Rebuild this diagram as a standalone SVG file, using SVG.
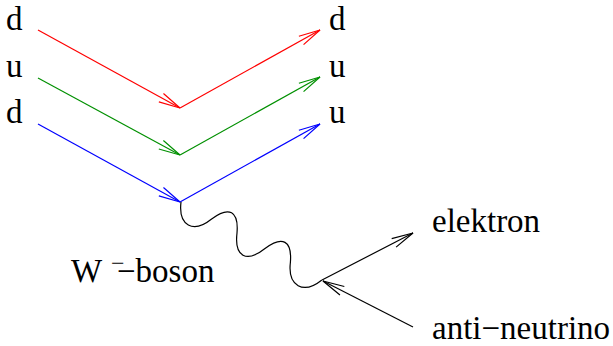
<svg xmlns="http://www.w3.org/2000/svg" width="613" height="346" viewBox="0 0 613 346">
<style>
  text { font-family: "Liberation Serif", "Times New Roman", serif; font-size: 33px; fill: #000; }
  .ln { fill: none; stroke-width: 1.2; }
  .r { stroke: #ff0000; }
  .g { stroke: #009000; }
  .b { stroke: #0000ff; }
  .k { stroke: #000000; }
</style>
<defs>
  <marker id="ar" markerUnits="userSpaceOnUse" orient="auto" markerWidth="30" markerHeight="20" refX="0" refY="0" viewBox="-25 -10 30 20" overflow="visible">
    <path d="M-21.5,-4.8 L0,0 L-21.5,4.8" fill="none" stroke="#ff0000" stroke-width="1.2"/>
  </marker>
  <marker id="ag" markerUnits="userSpaceOnUse" orient="auto" markerWidth="30" markerHeight="20" refX="0" refY="0" viewBox="-25 -10 30 20" overflow="visible">
    <path d="M-21.5,-4.8 L0,0 L-21.5,4.8" fill="none" stroke="#009000" stroke-width="1.2"/>
  </marker>
  <marker id="ab" markerUnits="userSpaceOnUse" orient="auto" markerWidth="30" markerHeight="20" refX="0" refY="0" viewBox="-25 -10 30 20" overflow="visible">
    <path d="M-21.5,-4.8 L0,0 L-21.5,4.8" fill="none" stroke="#0000ff" stroke-width="1.2"/>
  </marker>
  <marker id="ak" markerUnits="userSpaceOnUse" orient="auto" markerWidth="30" markerHeight="20" refX="0" refY="0" viewBox="-25 -10 30 20" overflow="visible">
    <path d="M-21.5,-4.8 L0,0 L-21.5,4.8" fill="none" stroke="#000000" stroke-width="1.2"/>
  </marker>
</defs>

<g id="connectors">
  <line id="red-in" class="ln r" x1="38" y1="30" x2="180" y2="108" marker-end="url(#ar)"/>
  <line id="red-out" class="ln r" x1="180" y1="108" x2="320" y2="30" marker-end="url(#ar)"/>
  <line id="green-in" class="ln g" x1="38" y1="78" x2="180" y2="155" marker-end="url(#ag)"/>
  <line id="green-out" class="ln g" x1="180" y1="155" x2="320" y2="77" marker-end="url(#ag)"/>
  <line id="blue-in" class="ln b" x1="38" y1="124" x2="180" y2="202" marker-end="url(#ab)"/>
  <line id="blue-out" class="ln b" x1="180" y1="202" x2="320" y2="124" marker-end="url(#ab)"/>
  <path id="w-boson" class="ln k" transform="translate(181,202) rotate(28.95)" d="M0,0 C9,22 26,22 35,0 C44,-20 55,-20 64,0 C73,22 87,22 96,0 C105,-20 116,-20 125,0 C134,22 152,22 161,0"/>
  <line id="electron" class="ln k" x1="322" y1="280" x2="413" y2="233" marker-end="url(#ak)"/>
  <line id="antineutrino" class="ln k" x1="413" y1="327" x2="323" y2="281" marker-end="url(#ak)"/>
</g>

<g id="in-d1"><text x="6" y="30">d</text></g>
<g id="in-u"><text x="6" y="77">u</text></g>
<g id="in-d2"><text x="6" y="123">d</text></g>
<g id="out-d"><text x="329" y="30">d</text></g>
<g id="out-u1"><text x="329" y="77">u</text></g>
<g id="out-u2"><text x="329" y="123">u</text></g>
<g id="w-label">
  <text x="71" y="282">W <tspan x="111" dy="-11" style="font-size:24px">−</tspan><tspan x="117" dy="11">−boson</tspan></text>
</g>
<g id="elektron"><text x="432" y="232">elektron</text></g>
<g id="anti-neutrino"><text x="432" y="339">anti−neutrino</text></g>
</svg>
